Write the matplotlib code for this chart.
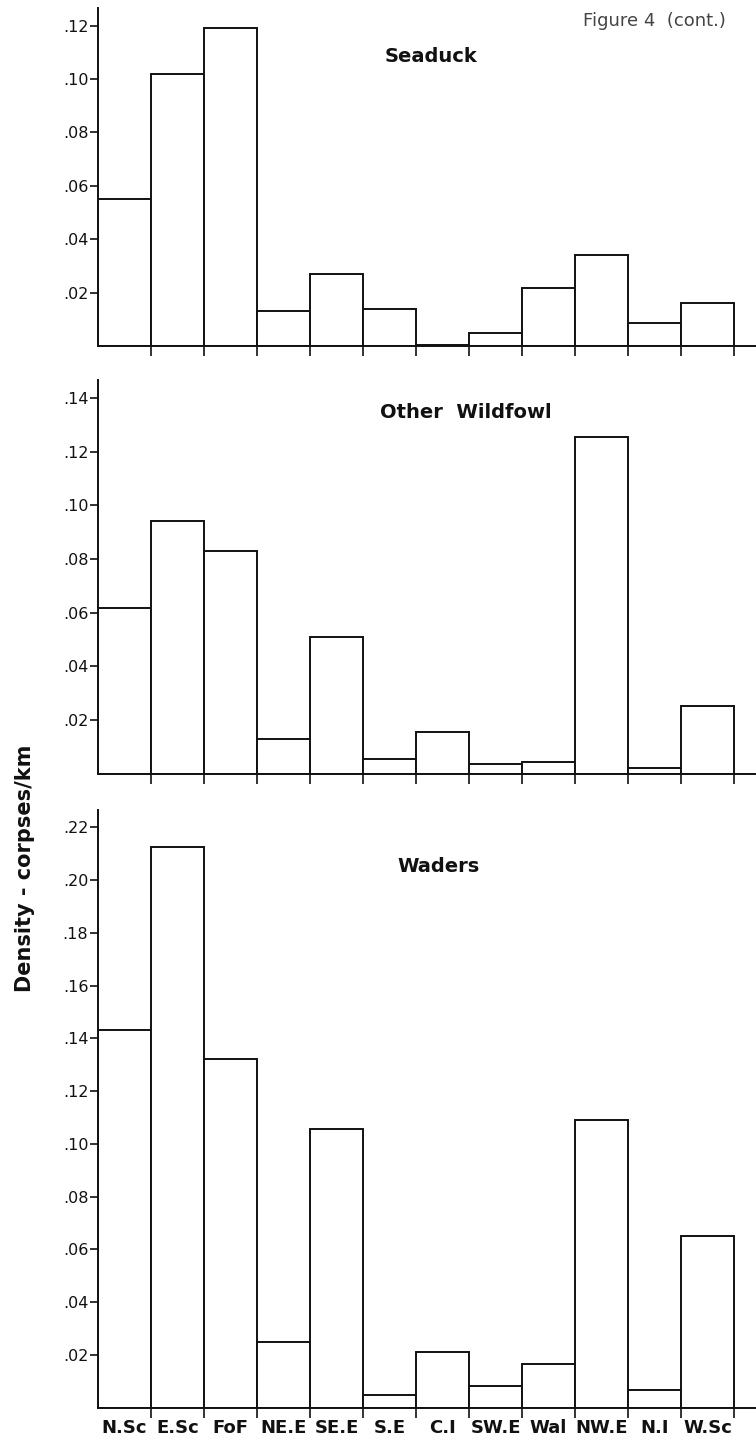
import matplotlib
matplotlib.use("Agg")
import matplotlib.pyplot as plt
import numpy as np

# --- data (density, corpses per km) ---
regions = ["N.Sc", "E.Sc", "FoF", "NE.E", "SE.E", "S.E",
           "C.I", "SW.E", "Wal", "NW.E", "N.I", "W.Sc"]
seaduck = [0.055, 0.102, 0.119, 0.013, 0.027, 0.014,
           0.0004, 0.005, 0.0217, 0.034, 0.0086, 0.0162]
other_wildfowl = [0.0617, 0.0943, 0.083, 0.0129, 0.051, 0.0053,
                  0.0156, 0.0035, 0.0042, 0.1255, 0.002, 0.025]
waders = [0.1433, 0.2124, 0.1323, 0.0247, 0.1057, 0.0048,
          0.0212, 0.008, 0.0166, 0.1089, 0.0067, 0.0649]

seaduck_ticks = [0.02, 0.04, 0.06, 0.08, 0.10, 0.12]
wildfowl_ticks = [0.02, 0.04, 0.06, 0.08, 0.10, 0.12, 0.14]
waders_ticks = [0.02, 0.04, 0.06, 0.08, 0.10, 0.12, 0.14, 0.16, 0.18, 0.20, 0.22]

INK = "#111111"
W, H = 756, 1442


def px_box(left, top, right, bottom):
    """pixel box (from top-left) -> figure fraction [l, b, w, h]"""
    return [left / W, 1 - bottom / H, (right - left) / W, (bottom - top) / H]


def tick_text(v):
    # ".12" style: no leading zero
    return ("%.2f" % v)[1:]


def draw_panel(ax, values, ticks, ymax, title, title_xy, show_labels=False):
    n = len(values)
    ax.bar(np.arange(n), values, width=1.0, align="edge", color="white",
           edgecolor=INK, linewidth=1.4, zorder=2)
    ax.set_xlim(0, 12.415)
    ax.set_ylim(0, ymax)
    for s in ("top", "right"):
        ax.spines[s].set_visible(False)
    for s in ("left", "bottom"):
        ax.spines[s].set_linewidth(1.4)
        ax.spines[s].set_color(INK)

    ax.set_yticks(ticks)
    ax.set_yticklabels([tick_text(t) for t in ticks])
    ax.tick_params(axis="y", direction="out", length=6, width=1.2, pad=1,
                   labelsize=11.5, colors=INK)

    # bar-edge ticks (major) and centred category labels (minor)
    ax.set_xticks(np.arange(1, n + 1))
    ax.set_xticklabels([])
    ax.tick_params(axis="x", which="major", direction="out", length=7,
                   width=1.2, colors=INK)
    if show_labels:
        ax.set_xticks(np.arange(n) + 0.5, minor=True)
        ax.set_xticklabels(regions, minor=True, fontsize=13,
                           fontweight="bold", color=INK)
        ax.tick_params(axis="x", which="minor", length=0, pad=8)

    fig.text(title_xy[0] / W, 1 - title_xy[1] / H, title, fontsize=14,
             fontweight="bold", color=INK, ha="left", va="center")


fig = plt.figure(figsize=(W / 100, H / 100), dpi=100)
fig.patch.set_facecolor("white")

ax1 = fig.add_axes(px_box(98, 8, 756, 346))
draw_panel(ax1, seaduck, seaduck_ticks, 0.1266, "Seaduck", (385, 57))

ax2 = fig.add_axes(px_box(98, 380, 756, 773.5))
draw_panel(ax2, other_wildfowl, wildfowl_ticks, 0.1468,
           "Other  Wildfowl", (380, 412))

ax3 = fig.add_axes(px_box(98, 810, 756, 1407.5))
draw_panel(ax3, waders, waders_ticks, 0.2266, "Waders", (397, 867),
           show_labels=True)

fig.text(583 / W, 1 - 21 / H, "Figure 4  (cont.)", fontsize=13,
         color="#444444", ha="left", va="center")
fig.text(25 / W, 1 - 868 / H, "Density - corpses/km", rotation=90,
         fontsize=15, fontweight="bold", color=INK, ha="center", va="center")

fig.savefig("out.png", dpi=100, facecolor="white")
